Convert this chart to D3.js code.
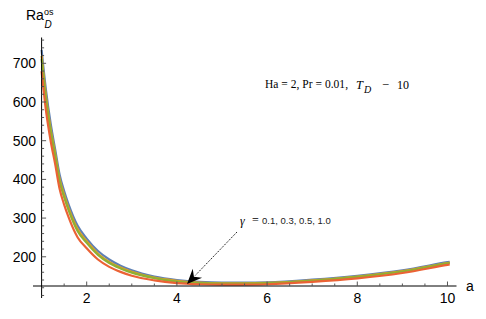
<!DOCTYPE html>
<html>
<head>
<meta charset="utf-8">
<script src="https://cdn.jsdelivr.net/npm/d3@7"></script>
<style>
  body { margin: 0; background: #fff; }
  svg { display: block; }
</style>
</head>
<body>
<svg id="chart" width="486" height="319"></svg>
<script>
// wave number a
const aValues = [1, 1.1, 1.2, 1.3, 1.4, 1.5, 1.6, 1.8, 2, 2.25, 2.5, 2.75, 3, 3.5, 4, 4.5, 5, 5.5, 6, 7, 8, 9, 10, 10.05];

// Ra_D^os for gamma = 0.1, 0.3, 0.5, 1.0
const raBlue   = [735, 628, 545, 478, 412, 370, 335, 280, 247, 215, 193, 177, 165, 149, 140, 135, 133, 133, 134, 141, 151, 165, 186, 187];
const raOrange = [719, 612, 531, 467, 401, 360, 325, 271, 240, 208, 187, 172, 161, 146, 138, 133, 131.5, 131.5, 132.5, 139, 149, 163, 184, 185];
const raGreen  = [711, 604, 525, 461, 395, 354, 320, 266, 236, 205, 184, 170, 159, 145, 136, 132, 131, 131, 132, 138, 148, 162, 183, 184];
const raRed    = [680, 575, 500, 440, 375, 335, 302, 250, 222, 193, 174, 161, 151, 139, 132, 129, 128, 128, 129, 135, 144, 158, 179, 180];

const seriesList = [
  { name: "0.1", values: raBlue,   color: "#5E81B5" },
  { name: "0.3", values: raOrange, color: "#E19C24" },
  { name: "0.5", values: raGreen,  color: "#8FB032" },
  { name: "1.0", values: raRed,    color: "#EB6235" }
];

const xMajor = [2, 4, 6, 8, 10];
const yMajor = [200, 300, 400, 500, 600, 700];

const svg = d3.select("#chart");

const x = d3.scaleLinear().domain([1, 10.2]).range([41.6, 456.5]);
const y = d3.scaleLinear().domain([124.5, 766.7]).range([286, 37.5]);

const tickColor = "#555";

// curves
const line = d3.line()
  .x((d, i) => x(aValues[i]))
  .y(d => y(d))
  .curve(d3.curveMonotoneX);

svg.append("g")
  .selectAll("path")
  .data(seriesList)
  .join("path")
  .attr("d", d => line(d.values))
  .attr("fill", "none")
  .attr("stroke", d => d.color)
  .attr("stroke-width", 2.2);

// x axis
const xMinor = d3.range(1.5, 10.01, 0.5).filter(v => !xMajor.includes(v));
const gx = svg.append("g");
gx.append("line")
  .attr("x1", 33).attr("x2", x(10.2))
  .attr("y1", y(124.5)).attr("y2", y(124.5))
  .attr("stroke", "#000");
gx.selectAll(".xmin").data(xMinor).join("line")
  .attr("x1", d => x(d)).attr("x2", d => x(d))
  .attr("y1", y(124.5)).attr("y2", y(124.5) - 2.5)
  .attr("stroke", tickColor);
gx.selectAll(".xmaj").data(xMajor).join("line")
  .attr("x1", d => x(d)).attr("x2", d => x(d))
  .attr("y1", y(124.5)).attr("y2", y(124.5) - 4.5)
  .attr("stroke", tickColor);
gx.selectAll("text").data(xMajor).join("text")
  .attr("x", d => x(d))
  .attr("y", 303)
  .attr("text-anchor", "middle")
  .attr("font-family", "Liberation Sans, Arial, sans-serif")
  .attr("font-size", 14)
  .text(d => d);

// y axis
const yMinor = d3.range(100, 761, 20).filter(v => !yMajor.includes(v));
const gy = svg.append("g");
gy.append("line")
  .attr("x1", x(1)).attr("x2", x(1))
  .attr("y1", 37.5).attr("y2", 298)
  .attr("stroke", "#000");
gy.selectAll(".ymin").data(yMinor).join("line")
  .attr("x1", x(1)).attr("x2", x(1) + 2.5)
  .attr("y1", d => y(d)).attr("y2", d => y(d))
  .attr("stroke", tickColor);
gy.selectAll(".ymaj").data(yMajor).join("line")
  .attr("x1", x(1)).attr("x2", x(1) + 4.5)
  .attr("y1", d => y(d)).attr("y2", d => y(d))
  .attr("stroke", tickColor);
gy.selectAll("text").data(yMajor).join("text")
  .attr("x", 36)
  .attr("y", d => y(d) + 5)
  .attr("text-anchor", "end")
  .attr("font-family", "Liberation Sans, Arial, sans-serif")
  .attr("font-size", 14)
  .text(d => d);

// axis labels
svg.append("text")
  .attr("x", 466).attr("y", 291)
  .attr("font-family", "Liberation Sans, Arial, sans-serif")
  .attr("font-size", 14)
  .text("a");

const yl = svg.append("text")
  .attr("font-family", "Liberation Sans, Arial, sans-serif");
yl.append("tspan").attr("x", 26).attr("y", 20).attr("font-size", 14).text("Ra");
yl.append("tspan").attr("x", 44).attr("y", 15).attr("font-size", 9).text("os");
yl.append("tspan").attr("x", 44.5).attr("y", 27.5).attr("font-size", 10)
  .attr("font-style", "italic").text("D");

// parameter note
const serif = "Liberation Serif, Times New Roman, serif";
svg.append("text")
  .attr("x", 265).attr("y", 88)
  .attr("font-family", serif).attr("font-size", 11.5)
  .attr("textLength", 83).attr("lengthAdjust", "spacing")
  .text("Ha = 2, Pr = 0.01,");
svg.append("text")
  .attr("x", 356).attr("y", 89)
  .attr("font-family", serif).attr("font-size", 12.5)
  .attr("font-style", "italic").text("T");
svg.append("text")
  .attr("x", 364).attr("y", 93)
  .attr("font-family", serif).attr("font-size", 10)
  .attr("font-style", "italic").text("D");
svg.append("text")
  .attr("x", 382).attr("y", 89)
  .attr("font-family", serif).attr("font-size", 12.5)
  .text("\u2212");
svg.append("text")
  .attr("x", 397).attr("y", 89)
  .attr("font-family", serif).attr("font-size", 12)
  .text("10");

// gamma label and arrow
svg.append("text")
  .attr("x", 240).attr("y", 225)
  .attr("font-family", serif).attr("font-size", 12)
  .attr("font-style", "italic").text("\u03b3");
svg.append("text")
  .attr("x", 252).attr("y", 224)
  .attr("font-family", serif).attr("font-size", 12)
  .text("=");
svg.append("text")
  .attr("x", 262).attr("y", 224)
  .attr("font-family", "Liberation Sans, Arial, sans-serif").attr("font-size", 9.5)
  .attr("fill", "#222")
  .text("0.1, 0.3, 0.5, 1.0");

const ax0 = 237, ay0 = 232, ax1 = 187, ay1 = 284;
svg.append("line")
  .attr("x1", ax0).attr("y1", ay0)
  .attr("x2", ax1 + 8).attr("y2", ay1 - 8.3)
  .attr("stroke", "#000").attr("stroke-width", 1)
  .attr("stroke-dasharray", "1.2,1.2");
const ang = Math.atan2(ay1 - ay0, ax1 - ax0) * 180 / Math.PI;
svg.append("path")
  .attr("d", "M0,0 L-15,-6.5 L-10,0 L-15,6.5 Z")
  .attr("transform", `translate(${ax1},${ay1}) rotate(${ang})`)
  .attr("fill", "#000");
</script>
</body>
</html>
